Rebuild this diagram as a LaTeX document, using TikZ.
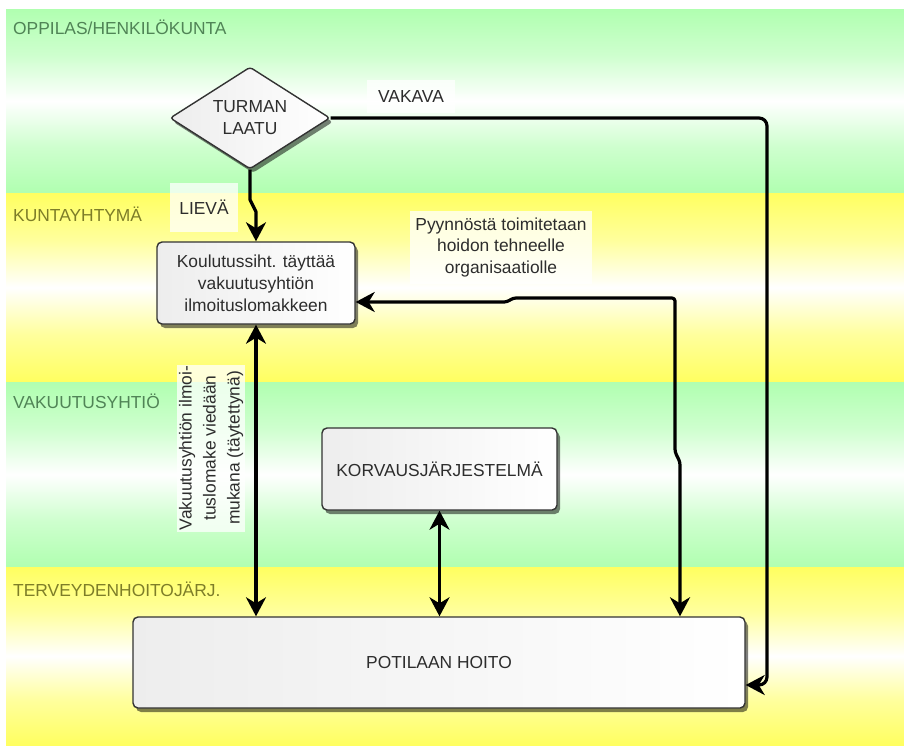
\documentclass[tikz,border=0pt]{standalone}
\usepackage{fontspec}
\setmainfont{Liberation Sans}
\usetikzlibrary{arrows.meta,shapes.geometric,shadows,calc}
\definecolor{lanegreen}{RGB}{176,255,176}
\definecolor{laneyellow}{RGB}{255,255,96}
\definecolor{inkgray}{RGB}{45,45,45}
\definecolor{greenlabel}{RGB}{80,132,86}
\definecolor{olivelabel}{RGB}{125,125,40}
% lane fades: full colour at both edges, white across the middle
\pgfdeclareverticalshading{greenlane}{100bp}{color(0bp)=(lanegreen); color(25bp)=(lanegreen);
  color(37.5bp)=(lanegreen!62); color(50bp)=(white); color(62.5bp)=(lanegreen!62);
  color(75bp)=(lanegreen); color(100bp)=(lanegreen)}
\pgfdeclareverticalshading{yellowlane}{100bp}{color(0bp)=(laneyellow); color(25bp)=(laneyellow);
  color(37.5bp)=(laneyellow!62); color(50bp)=(white); color(62.5bp)=(laneyellow!62);
  color(75bp)=(laneyellow); color(100bp)=(laneyellow)}
\begin{document}
\begin{tikzpicture}[x=1pt,y=-1pt,
  bodyfont/.style={font=\fontsize{17.4}{22}\selectfont, text=inkgray, align=center},
  lanelabel/.style={anchor=west, inner sep=0pt, font=\fontsize{17.4}{20}\selectfont},
  box/.style={bodyfont, draw=black!80, line width=1.4pt, rounded corners=5pt,
    left color=black!7, right color=white, inner sep=0pt,
    drop shadow={shadow xshift=3pt, shadow yshift=-4pt, fill=black, opacity=0.5}},
  notebg/.style={bodyfont, fill=white, fill opacity=0.75, text opacity=1, inner sep=0pt},
  conn/.style={line width=3.2pt, draw=black, line join=round,
    -{Stealth[length=19pt,width=20pt,inset=6pt]}},
  dconn/.style={conn, {Stealth[length=19pt,width=20pt,inset=6pt]}-{Stealth[length=19pt,width=20pt,inset=6pt]}}]

\useasboundingbox (0,0) rectangle (904,747);
\fill[white] (0,0) rectangle (904,747);

% swimlane backgrounds
\shade[shading=greenlane] (6,9) rectangle (904,193);
\shade[shading=yellowlane] (6,193) rectangle (904,382);
\shade[shading=greenlane] (6,382) rectangle (904,567);
\shade[shading=yellowlane] (6,567) rectangle (904,745);

% lane titles
\node[lanelabel, text=greenlabel] (lane1) at (13,27) {OPPILAS/HENKILÖKUNTA};
\node[lanelabel, text=olivelabel] (lane2) at (13,214) {KUNTAYHTYMÄ};
\node[lanelabel, text=greenlabel] (lane3) at (13,401) {VAKUUTUSYHTIÖ};
\node[lanelabel, text=olivelabel] (lane4) at (13,589) {TERVEYDENHOITOJÄRJ.};

% process nodes
\node[box, diamond, aspect=1.57, rounded corners=3pt, minimum width=160pt, minimum height=102pt]
  (turma) at (250,118) {TURMAN\\LAATU};
\node[box, minimum width=198pt, minimum height=82pt] (koulu) at (256,283)
  {Koulutussiht. täyttää\\vakuutusyhtiön\\ilmoituslomakkeen};
\node[box, minimum width=235pt, minimum height=82pt] (korv) at (439.5,469) {KORVAUSJÄRJESTELMÄ};
\node[box, minimum width=612pt, minimum height=91pt] (potilas) at (439,662.5) {POTILAAN HOITO};

% edge notes
\node[notebg, minimum width=68pt, minimum height=49pt] (lieva) at (204,207) {LIEVÄ};
\node[notebg, minimum width=88pt, minimum height=33pt] (vakava) at (411,96.5) {VAKAVA};
\node[notebg, minimum width=182pt, minimum height=73pt, font=\fontsize{17.4}{21.5}\selectfont] (pyynto) at (501,247)
  {Pyynnöstä toimitetaan\\hoidon tehneelle\\organisaatiolle};
\node[notebg, rotate=90, minimum width=167pt, minimum height=68pt, font=\fontsize{17.4}{24}\selectfont] (lomake) at (211,448)
  {Vakuutusyhtiön ilmoi-\\tuslomake viedään\\mukana (täytettynä)};

% connectors
\coordinate (vk) at (767,685);
\coordinate (pk) at (680,0);
\draw[conn] (turma.south) -- ++(0,30) -- ++(6,12) -- (koulu.north);
\draw[conn, rounded corners=8pt] (turma.east) -| (vk) -- (vk -| potilas.east);
\draw[dconn, rounded corners=3pt] ($(koulu.east)+(0,19)$) -- (507,302) -- (513,298) -- (675,298)
  -- (675,452) -- (680,462) -- (pk |- potilas.north);
\draw[dconn] (koulu.south) -- (koulu.south |- potilas.north);
\draw[dconn] (korv.south) -- (korv.south |- potilas.north);
\end{tikzpicture}
\end{document}
